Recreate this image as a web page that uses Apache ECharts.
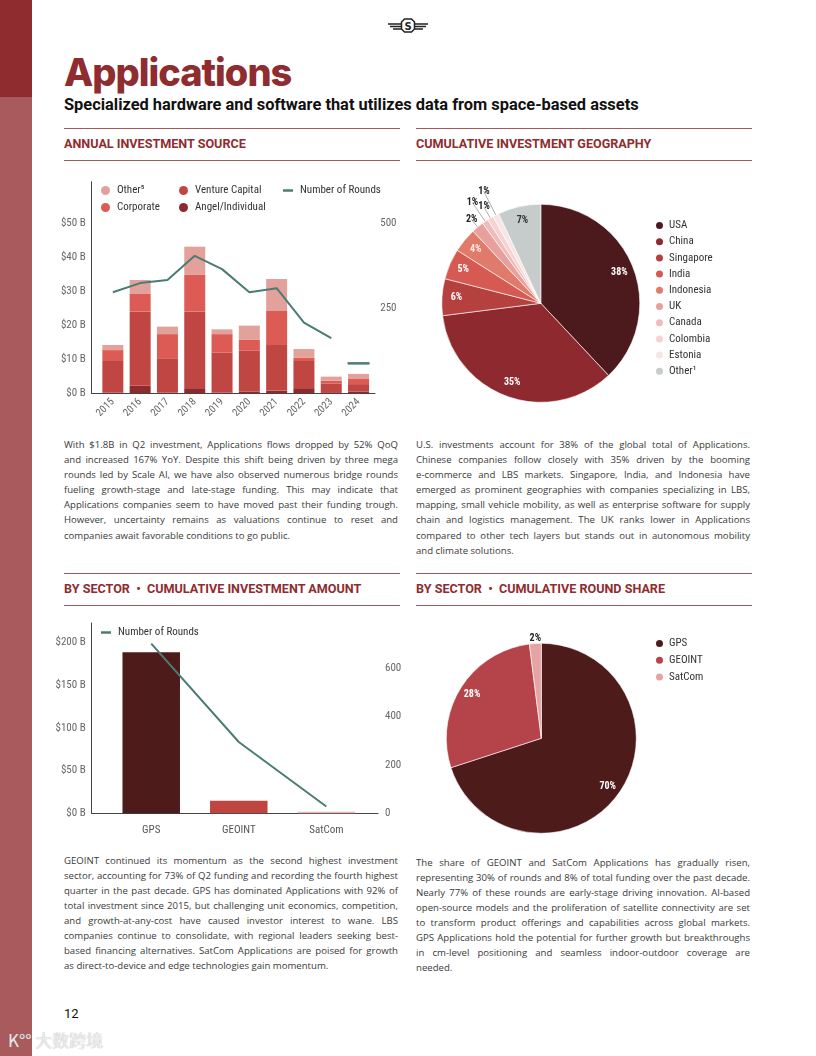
<!DOCTYPE html>
<html><head><meta charset="utf-8">
<script src="https://cdn.jsdelivr.net/npm/echarts@6/dist/echarts.min.js"></script>
<style>
body{margin:0;background:#fff;}
#page{position:relative;width:816px;height:1056px;background:#fff;overflow:hidden;font-family:'Open Sans',sans-serif;}
.abs{position:absolute;}
.hline{position:absolute;height:1px;background:#a25a5c;width:336px;}
.hdr{position:absolute;font-family:Roboto,sans-serif;font-weight:700;font-size:12.6px;line-height:12px;color:#8f2c2f;white-space:nowrap;}
.para{position:absolute;width:334px;font-size:9.6px;line-height:15.1px;color:#3a3a3a;font-stretch:90%;}
.ln{text-align:justify;text-align-last:justify;}
.ln.last{text-align-last:left;}
#chart{position:absolute;left:0;top:0;width:816px;height:1056px;}
</style></head>
<body>
<div id="page">
  <div class="abs" style="left:0;top:0;width:32px;height:97px;background:#8f2c2f"></div>
  <div class="abs" style="left:0;top:97px;width:32px;height:959px;background:#a85a5c"></div>

  <svg class="abs" style="left:386px;top:17px" width="44" height="17" viewBox="0 0 44 17">
    <path d="M2 7 H15 M4 9.5 H15 M7 12 H15 M42 7 H29 M40 9.5 H29 M37 12 H29" stroke="#222" stroke-width="1.3"/>
    <polygon points="18.5,2 25.5,2 28.5,5 28.5,12 25.5,15 18.5,15 15.5,12 15.5,5" fill="#fff" stroke="#222" stroke-width="1.5"/>
    <text x="22" y="12.6" font-size="10" text-anchor="middle" font-weight="bold" font-family="DejaVu Sans" fill="#222">S</text>
  </svg>

  <div class="abs" style="left:64px;top:53px;font-family:Inter,sans-serif;font-weight:800;font-size:38px;line-height:38px;letter-spacing:-1px;color:#8f2c2f;">Applications</div>
  <div class="abs" style="left:64px;top:96.5px;font-family:Roboto,sans-serif;font-weight:700;font-size:16.4px;line-height:16.4px;color:#111;white-space:nowrap;">Specialized hardware and software that utilizes data from space-based assets</div>

  <div class="hline" style="left:64px;top:128px"></div>
  <div class="hline" style="left:64px;top:160px"></div>
  <div class="hline" style="left:416px;top:128px"></div>
  <div class="hline" style="left:416px;top:160px"></div>
  <div class="hdr" style="left:64px;top:138px">ANNUAL INVESTMENT SOURCE</div>
  <div class="hdr" style="left:416px;top:138px">CUMULATIVE INVESTMENT GEOGRAPHY</div>

  <div class="hline" style="left:64px;top:573px"></div>
  <div class="hline" style="left:64px;top:605px"></div>
  <div class="hline" style="left:416px;top:573px"></div>
  <div class="hline" style="left:416px;top:605px"></div>
  <div class="hdr" style="left:64px;top:583px">BY SECTOR &nbsp;•&nbsp; CUMULATIVE INVESTMENT AMOUNT</div>
  <div class="hdr" style="left:416px;top:583px">BY SECTOR &nbsp;•&nbsp; CUMULATIVE ROUND SHARE</div>

  <div class="para" style="left:64px;top:437px">
    <div class="ln">With $1.8B in Q2 investment, Applications flows dropped by 52% QoQ</div>
    <div class="ln">and increased 167% YoY. Despite this shift being driven by three mega</div>
    <div class="ln">rounds led by Scale AI, we have also observed numerous bridge rounds</div>
    <div class="ln">fueling growth-stage and late-stage funding. This may indicate that</div>
    <div class="ln">Applications companies seem to have moved past their funding trough.</div>
    <div class="ln">However, uncertainty remains as valuations continue to reset and</div>
    <div class="ln last">companies await favorable conditions to go public.</div>
  </div>
  <div class="para" style="left:416px;top:437px">
    <div class="ln">U.S. investments account for 38% of the global total of Applications.</div>
    <div class="ln">Chinese companies follow closely with 35% driven by the booming</div>
    <div class="ln">e-commerce and LBS markets. Singapore, India, and Indonesia have</div>
    <div class="ln">emerged as prominent geographies with companies specializing in LBS,</div>
    <div class="ln">mapping, small vehicle mobility, as well as enterprise software for supply</div>
    <div class="ln">chain and logistics management. The UK ranks lower in Applications</div>
    <div class="ln">compared to other tech layers but stands out in autonomous mobility</div>
    <div class="ln last">and climate solutions.</div>
  </div>
  <div class="para" style="left:64px;top:852.5px">
    <div class="ln">GEOINT continued its momentum as the second highest investment</div>
    <div class="ln">sector, accounting for 73% of Q2 funding and recording the fourth highest</div>
    <div class="ln">quarter in the past decade. GPS has dominated Applications with 92% of</div>
    <div class="ln">total investment since 2015, but challenging unit economics, competition,</div>
    <div class="ln">and growth-at-any-cost have caused investor interest to wane. LBS</div>
    <div class="ln">companies continue to consolidate, with regional leaders seeking best-</div>
    <div class="ln">based financing alternatives. SatCom Applications are poised for growth</div>
    <div class="ln last">as direct-to-device and edge technologies gain momentum.</div>
  </div>
  <div class="para" style="left:416px;top:854.5px">
    <div class="ln">The share of GEOINT and SatCom Applications has gradually risen,</div>
    <div class="ln">representing 30% of rounds and 8% of total funding over the past decade.</div>
    <div class="ln">Nearly 77% of these rounds are early-stage driving innovation. AI-based</div>
    <div class="ln">open-source models and the proliferation of satellite connectivity are set</div>
    <div class="ln">to transform product offerings and capabilities across global markets.</div>
    <div class="ln">GPS Applications hold the potential for further growth but breakthroughs</div>
    <div class="ln">in cm-level positioning and seamless indoor-outdoor coverage are</div>
    <div class="ln last">needed.</div>
  </div>

  <div class="abs" style="left:64px;top:1006px;font-family:Roboto,sans-serif;font-size:13px;line-height:16px;color:#111">12</div>
  <div class="abs" style="left:8px;top:1030px;font-family:'Noto Sans CJK SC',sans-serif;font-size:17px;line-height:20px;color:rgba(255,255,255,0.8);text-shadow:0 0 1px #999;white-space:nowrap">K°° 大数跨境</div>

  <div id="chart"></div>
</div>
<script>
// ---------- Data ----------
const years = ['2015','2016','2017','2018','2019','2020','2021','2022','2023','2024'];
const angel     = [0.2, 2.2, 0.2, 1.5, 0.2, 0.5, 0.8, 1.5, 0.1, 0.5];
const venture   = [9.3, 21.8, 9.9, 22.5, 11.8, 12.0, 13.4, 8.0, 2.8, 2.2];
const corporate = [3.2, 5.2, 7.3, 10.8, 5.4, 3.2, 10.0, 1.0, 0.8, 1.5];
const otherSrc  = [1.5, 4.1, 2.2, 8.3, 1.4, 4.2, 9.4, 2.5, 1.2, 1.5];
const annualRounds = [297, 324, 333, 404, 365, 297, 309, 208, 162, null];
const rounds2024 = 88;

const geoNames  = ['USA','China','Singapore','India','Indonesia','UK','Canada','Colombia','Estonia','Other¹'];
const geoShares = [38, 35, 6, 5, 4, 2, 1, 1, 1, 7];

const sectors = ['GPS','GEOINT','SatCom'];
const sectorAmount = [188.7, 14.8, 1.9];
const sectorRounds = [700, 294, 28];
const sectorShare  = [70, 28, 2];

// ---------- Styles ----------
const CF = "'Liberation Sans Narrow','Roboto Condensed','DejaVu Sans Condensed',sans-serif";
const srcColors = {angel:'#8c2a2e', venture:'#c04644', corporate:'#dc5b55', other:'#e3a19c'};
const roundColor = '#4b7c74';
const geoColors = ['#4c1a1c','#8e2a2f','#b5413f','#d75a52','#e07b6c','#e8a09d','#efbcbb','#f4d3d2','#f8e6e6','#c6cbcc'];
const geoLabelColors = ['#fff','#fff','#fff','#fff','#fde8e6',null,null,null,null,'#333'];
const geoLineLen = [0,0,0,0,0,10,23,13,27,0];
const sectorColors = ['#4e1b1b','#b5444a','#e6a3a3'];
const sectorBarColors = ['#4e1b1b','#c0443f','#ebb3b1'];
const decal = {symbol:'none', dashArrayX:[1,0], dashArrayY:[1.6,8], rotation:-Math.PI/4, color:'#1a1a1a'};

function stackData(arr){
  return arr.map((v,i)=>{
    const d = {value:v};
    if (i === years.length-1) d.itemStyle = {decal: decal};
    return d;
  });
}
function barSeries(name, arr, color){
  return {name, type:'bar', xAxisIndex:0, yAxisIndex:0, stack:'src', barWidth:21,
    itemStyle:{color}, data:stackData(arr), silent:true};
}
const axisLbl = {color:'#666', fontSize:11, fontFamily:CF};
const legendText = {fontSize:11, color:'#333', fontFamily:CF, padding:[0,0,0,2]};

const option = {
  animation:false,
  textStyle:{fontFamily:CF},
  grid:[
    {left:99.2, top:181.7, width:273, height:211.6},   // annual data
    {left:91.7, top:623, width:286.3, height:190.3},   // sector data
    {left:91.7, top:181.7, width:283.3, height:211.6}  // annual frame (axis lines)
  ],
  xAxis:[
    {type:'category', gridIndex:0, data:years, axisLine:{show:false}, axisTick:{show:false},
     axisLabel:Object.assign({}, axisLbl, {rotate:45, margin:7, fontSize:10.5})},
    {type:'value', gridIndex:1, min:-0.68, max:2.59, splitLine:{show:false},
     axisLine:{show:true, onZero:false, lineStyle:{color:'#444'}}, axisTick:{show:false},
     axisLabel:Object.assign({}, axisLbl, {customValues:[0,1,2], formatter:v=>sectors[Math.round(v)], margin:11, color:'#555'})},
    {type:'value', gridIndex:2, min:0, max:1, splitLine:{show:false}, axisTick:{show:false}, axisLabel:{show:false},
     axisLine:{show:true, onZero:false, lineStyle:{color:'#444'}}}
  ],
  yAxis:[
    {type:'value', gridIndex:0, min:0, max:62.2, show:false, splitLine:{show:false}},
    {type:'value', gridIndex:0, position:'right', min:0, max:622, interval:250, axisLine:{show:false, onZero:false},
     axisTick:{show:false}, splitLine:{show:false},
     axisLabel:Object.assign({}, axisLbl, {margin:8, formatter:v=> (v===0||v>500) ? '' : String(v)})},
    {type:'value', gridIndex:1, position:'left', min:0, max:223, interval:50, axisLine:{show:true, onZero:false, lineStyle:{color:'#444'}},
     axisTick:{show:false}, splitLine:{show:false},
     axisLabel:Object.assign({}, axisLbl, {margin:6, formatter:v=> v>200 ? '' : '$'+v+' B'})},
    {type:'value', gridIndex:1, position:'right', min:0, max:785, interval:200, axisLine:{show:false, onZero:false},
     axisTick:{show:false}, splitLine:{show:false},
     axisLabel:Object.assign({}, axisLbl, {margin:7, formatter:v=> v>600 ? '' : String(v)})},
    {type:'value', gridIndex:2, position:'left', min:0, max:62.2, interval:10, axisLine:{show:true, onZero:false, lineStyle:{color:'#444'}},
     axisTick:{show:false}, splitLine:{show:false},
     axisLabel:Object.assign({}, axisLbl, {margin:6, formatter:v=> v>50 ? '' : '$'+v+' B'})}
  ],
  legend:[
    {data:['Other⁵','Corporate'], left:96, top:180, orient:'vertical', icon:'circle', itemWidth:9, itemHeight:9, itemGap:6,
     textStyle:legendText, selectedMode:false},
    {data:['Venture Capital','Angel/Individual'], left:174, top:180, orient:'vertical', icon:'circle', itemWidth:9, itemHeight:9, itemGap:6,
     textStyle:legendText, selectedMode:false},
    {data:['Number of Rounds'], left:278, top:180, icon:'rect', itemWidth:10, itemHeight:2.5,
     textStyle:legendText, selectedMode:false},
    {data:geoNames, left:649, top:215, orient:'vertical', icon:'circle', itemWidth:9, itemHeight:9, itemGap:5.2,
     textStyle:{fontSize:11, color:'#333', fontFamily:CF}, selectedMode:false},
    {data:['Number of Rounds'], left:96, top:622, icon:'rect', itemWidth:10, itemHeight:2.5,
     textStyle:legendText, selectedMode:false},
    {data:sectors, left:649, top:633, orient:'vertical', icon:'circle', itemWidth:9, itemHeight:9, itemGap:5.7,
     textStyle:{fontSize:11, color:'#333', fontFamily:CF}, selectedMode:false}
  ],
  series:[
    barSeries('Angel/Individual', angel, srcColors.angel),
    barSeries('Venture Capital', venture, srcColors.venture),
    barSeries('Corporate', corporate, srcColors.corporate),
    barSeries('Other⁵', otherSrc, srcColors.other),
    {name:'Number of Rounds', type:'line', xAxisIndex:0, yAxisIndex:1, symbol:'none', silent:true,
     lineStyle:{color:roundColor, width:2}, itemStyle:{color:roundColor}, data:annualRounds},
    {name:'2024 rounds', type:'line', xAxisIndex:0, yAxisIndex:1, symbol:'rect', symbolSize:[22,2.5], showSymbol:true, silent:true,
     itemStyle:{color:roundColor}, lineStyle:{width:0},
     data:years.map((y,i)=> i===years.length-1 ? rounds2024 : null)},
    {name:'Sector Amount', type:'bar', xAxisIndex:1, yAxisIndex:2, barWidth:57.5, silent:true,
     data:sectorAmount.map((v,i)=>({value:[i,v], itemStyle:{color:sectorBarColors[i]}}))},
    {name:'Number of Rounds', type:'line', xAxisIndex:1, yAxisIndex:3, symbol:'none', silent:true,
     lineStyle:{color:roundColor, width:2}, itemStyle:{color:roundColor},
     data:sectorRounds.map((v,i)=>[i,v])},
    // Geography pie
    {name:'Geography', type:'pie', center:[540.8,303.3], radius:[0,99], startAngle:90, clockwise:true, silent:true,
     avoidLabelOverlap:false,
     itemStyle:{borderColor:'#fff', borderWidth:0.6},
     label:{position:'outside', formatter:'{c}%', color:'#222', fontSize:10, fontWeight:'bold', fontFamily:CF,
            distanceToLabelLine:-6, padding:[0,0,10,0]},
     labelLine:{length:8, length2:0, lineStyle:{color:'#8a8a8a', width:0.7}},
     data:geoNames.map((n,i)=>({name:n, value:geoShares[i], itemStyle:{color:geoColors[i]},
       label:{show: geoLabelColors[i]===null},
       labelLine:{show: geoLabelColors[i]===null, length: geoLineLen[i] || 8, length2:0}}))},
    {name:'Geography labels', type:'pie', center:[540.8,303.3], radius:[64,99], startAngle:90, clockwise:true, silent:true,
     itemStyle:{color:'rgba(0,0,0,0)'}, labelLine:{show:false},
     label:{position:'inside', formatter:'{c}%', fontSize:10, fontWeight:'bold', fontFamily:CF},
     data:geoNames.map((n,i)=>({name:'lbl_'+i, value:geoShares[i],
       label:{show: geoLabelColors[i]!==null, color: geoLabelColors[i]||'#fff'}}))},
    // Sector round share pie
    {name:'Round Share', type:'pie', center:[541.3,738.3], radius:[0,95], startAngle:90, clockwise:true, silent:true,
     avoidLabelOverlap:false,
     itemStyle:{borderColor:'#fff', borderWidth:0.6},
     label:{position:'outside', formatter:'{c}%', color:'#222', fontSize:10, fontWeight:'bold', fontFamily:CF,
            distanceToLabelLine:-6, padding:[0,0,6,0]},
     labelLine:{show:false, length:5, length2:0},
     data:sectors.map((n,i)=>({name:n, value:sectorShare[i], itemStyle:{color:sectorColors[i]},
       label:{show: sectorShare[i] < 5}}))},
    {name:'Round Share labels', type:'pie', center:[541.3,738.3], radius:[63,95], startAngle:90, clockwise:true, silent:true,
     itemStyle:{color:'rgba(0,0,0,0)'}, labelLine:{show:false},
     label:{position:'inside', formatter:'{c}%', color:'#fff', fontSize:10, fontWeight:'bold', fontFamily:CF},
     data:sectors.map((n,i)=>({name:'lbl_s'+i, value:sectorShare[i], label:{show: sectorShare[i] >= 5}}))}
  ]
};
const chart = echarts.init(document.getElementById('chart'), null, {renderer:'canvas'});
chart.setOption(option);

// keep each paragraph line on a single line
document.querySelectorAll('.ln').forEach(el=>{
  let ls = 0;
  while (el.offsetHeight > 20 && ls > -1.5) { ls -= 0.05; el.style.letterSpacing = ls + 'px'; }
});
</script>
</body></html>
